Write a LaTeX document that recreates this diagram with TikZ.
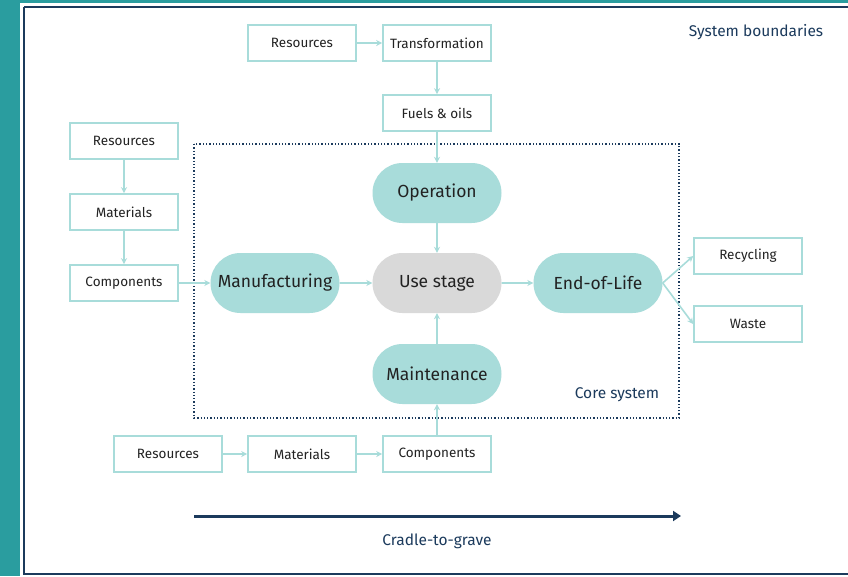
\documentclass[tikz,border=0pt]{standalone}
\usepackage{fontspec}
\setmainfont{Fira Sans}
\usetikzlibrary{arrows.meta,shapes.misc}
\definecolor{tealbg}{HTML}{2A9D9F}
\definecolor{pill}{HTML}{A8DCDA}
\definecolor{navy}{HTML}{1B3A5C}
\definecolor{greypill}{HTML}{D9D9D9}
\definecolor{txt}{HTML}{222222}
\tikzset{
  box/.style={draw=pill, line width=1.6pt, fill=white, minimum width=108pt, minimum height=36pt, inner sep=0pt, font=\fontsize{13.5}{15}\selectfont, text=txt},
  pillnode/.style={rounded rectangle, fill=pill, minimum width=129pt, minimum height=60pt, inner sep=0pt, font=\fontsize{17.5}{20}\selectfont, text=txt},
  conn/.style={draw=pill, line width=1.6pt, -{Stealth[length=6pt,width=6pt]}},
  lbl/.style={text=navy, font=\fontsize{15.5}{18}\selectfont},
}
\begin{document}
\begin{tikzpicture}[x=1pt,y=-1pt]
\useasboundingbox (0,0) rectangle (848,576);
\fill[tealbg] (0,0) rectangle (848,576);
\fill[white] (20,3) rectangle (848,576);
\draw[navy, line width=2pt] (24,7) -- (850,7);
\draw[navy, line width=2pt] (24,7) -- (24,574) -- (850,574);

% core system boundary
\draw[navy, line width=1.3pt, dotted] (194,144) rectangle (679,418);

% top chain
\node[box] (tres) at (302,43) {Resources};
\node[box] (ttra) at (437,43) {Transformation};
\node[box] (tfue) at (437,113) {Fuels \& oils};

% left chain
\node[box] (lres) at (124,141) {Resources};
\node[box] (lmat) at (124,212) {Materials};
\node[box] (lcom) at (124,283) {Components};

% bottom chain
\node[box] (bres) at (168,454) {Resources};
\node[box] (bmat) at (302,454) {Materials};
\node[box] (bcom) at (437,454) {Components};

% right outputs
\node[box] (rec) at (748,256) {Recycling};
\node[box] (was) at (748,324) {Waste};

% core pills
\node[pillnode] (ope) at (437,193) {Operation};
\node[pillnode] (man) at (275,283) {Manufacturing};
\node[pillnode, fill=greypill] (use) at (437,283) {Use stage};
\node[pillnode] (eol) at (598,283) {End-of-Life};
\node[pillnode] (mai) at (437,374) {Maintenance};

% connectors
\draw[conn] (tres) -- (ttra);
\draw[conn] (ttra) -- (tfue);
\draw[conn] (tfue) -- (ope);
\draw[conn] (lres) -- (lmat);
\draw[conn] (lmat) -- (lcom);
\draw[conn] (lcom) -- (man);
\draw[conn] (bres) -- (bmat);
\draw[conn] (bmat) -- (bcom);
\draw[conn] (bcom) -- (mai);
\draw[conn] (ope) -- (use);
\draw[conn] (mai) -- (use);
\draw[conn] (man) -- (use);
\draw[conn] (use) -- (eol);
\draw[conn] (eol.east) -- (rec.west);
\draw[conn] (eol.east) -- (was.west);

% labels
\node[lbl] (sysb) at (756,32) {System boundaries};
\node[lbl] (core) at (617,395) {Core system};
\coordinate (cs) at (194,516);
\coordinate (ce) at (681,516);
\draw[navy, line width=3pt, -{Triangle[length=8pt,width=10pt]}] (cs) -- (ce);
\node[lbl] (ctg) at (437,541) {Cradle-to-grave};
\end{tikzpicture}
\end{document}
